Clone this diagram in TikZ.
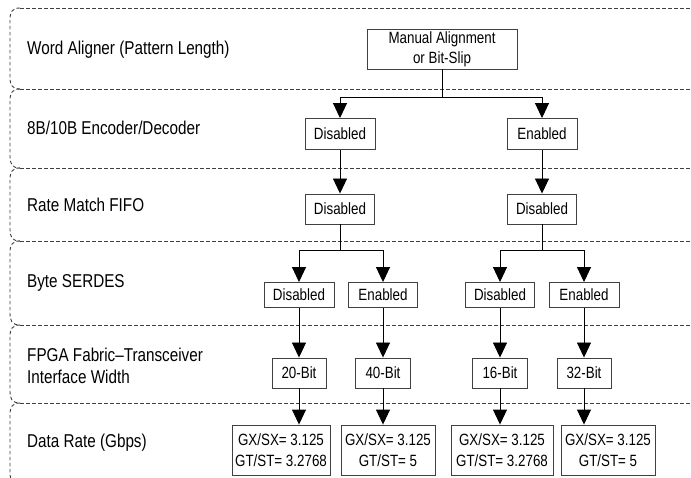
\documentclass[tikz,border=0pt]{standalone}
\usepackage{fontspec}
\setmainfont[FakeStretch=0.82]{Liberation Sans}
\usetikzlibrary{arrows.meta}
\begin{document}
\begin{tikzpicture}[x=1pt,y=-1pt,
  box/.style={draw=black!75,line width=0.9pt,inner sep=0pt,align=center,minimum height=30,font=\fontsize{16.3}{20}\selectfont},
  lbl/.style={anchor=west,align=left,inner sep=0pt,font=\fontsize{18.6}{22}\selectfont},
  arr/.style={line width=0.9pt,-{Triangle[width=14pt,length=15pt]}},
  band/.style={draw=black!75,line width=0.9pt,dash pattern=on 3.5pt off 2.5pt}]
\useasboundingbox (0,0) rectangle (691,478);
% bands
\foreach \yt/\yb in {8/89,89/168,168/241,241/325,325/403,403/484}
  \draw[band] (20,\yt) .. controls (12,\yt) and (10,\yt+4) .. (10,\yt+12) -- (10,\yb-12) .. controls (10,\yb-4) and (12,\yb) .. (20,\yb);
\foreach \y in {8,89,168,241,325,403}
  \draw[band] (20,\y) -- (691,\y);
% row labels
\node[lbl] (wa) at (27,50) {Word Aligner (Pattern Length)};
\node[lbl] (ed) at (27,128) {8B/10B Encoder/Decoder};
\node[lbl] (rmf) at (27,205) {Rate Match FIFO};
\node[lbl] (bsd) at (27,283) {Byte SERDES};
\node[lbl] (fti) at (27,366) {FPGA Fabric–Transceiver\\Interface Width};
\node[lbl] (drt) at (27,443) {Data Rate (Gbps)};
% word aligner
\node[box,minimum width=150,minimum height=40] (man) at (442,49) {Manual Alignment\\or Bit-Slip};
% 8B/10B
\node[box,minimum width=70,minimum height=31] (enc1) at (340,134) {Disabled};
\node[box,minimum width=70,minimum height=31] (enc2) at (542,134) {Enabled};
% rate match
\node[box,minimum width=69] (rm1) at (340,209) {Disabled};
\node[box,minimum width=69] (rm2) at (542,209) {Disabled};
% byte serdes
\node[box,minimum width=70,minimum height=25] (bs1) at (299,295) {Disabled};
\node[box,minimum width=69,minimum height=25] (bs2) at (383,295) {Enabled};
\node[box,minimum width=69,minimum height=25] (bs3) at (500,295) {Disabled};
\node[box,minimum width=70,minimum height=25] (bs4) at (584,295) {Enabled};
% interface width
\node[box,minimum width=54] (iw1) at (299,373) {20-Bit};
\node[box,minimum width=55] (iw2) at (383,373) {40-Bit};
\node[box,minimum width=55] (iw3) at (500,373) {16-Bit};
\node[box,minimum width=54] (iw4) at (584,373) {32-Bit};
% data rate
\node[box,minimum width=98,minimum height=50,font=\fontsize{16.3}{21}\selectfont] (dr1) at (281,450) {GX/SX= 3.125\\GT/ST= 3.2768};
\node[box,minimum width=94,minimum height=50,font=\fontsize{16.3}{21}\selectfont] (dr2) at (388,450) {GX/SX= 3.125\\GT/ST= 5};
\node[box,minimum width=102,minimum height=50,font=\fontsize{16.3}{21}\selectfont] (dr3) at (502,450) {GX/SX= 3.125\\GT/ST= 3.2768};
\node[box,minimum width=94,minimum height=50,font=\fontsize{16.3}{21}\selectfont] (dr4) at (608,450) {GX/SX= 3.125\\GT/ST= 5};
% connectors
\coordinate (s1) at (442,97); \coordinate (s2) at (340,250); \coordinate (s3) at (542,250);
\draw[line width=0.9pt] (man) -- (s1) (rm1) -- (s2) (rm2) -- (s3);
\draw[arr] (s1) -| (enc1); \draw[arr] (s1) -| (enc2);
\draw[arr] (enc1) -- (rm1); \draw[arr] (enc2) -- (rm2);
\draw[arr] (s2) -| (bs1); \draw[arr] (s2) -| (bs2);
\draw[arr] (s3) -| (bs3); \draw[arr] (s3) -| (bs4);
\foreach \i in {1,...,4} {
  \draw[arr] (bs\i) -- (iw\i);
  \draw[arr] (iw\i) -- (iw\i |- dr\i.north);
}
\end{tikzpicture}
\end{document}
